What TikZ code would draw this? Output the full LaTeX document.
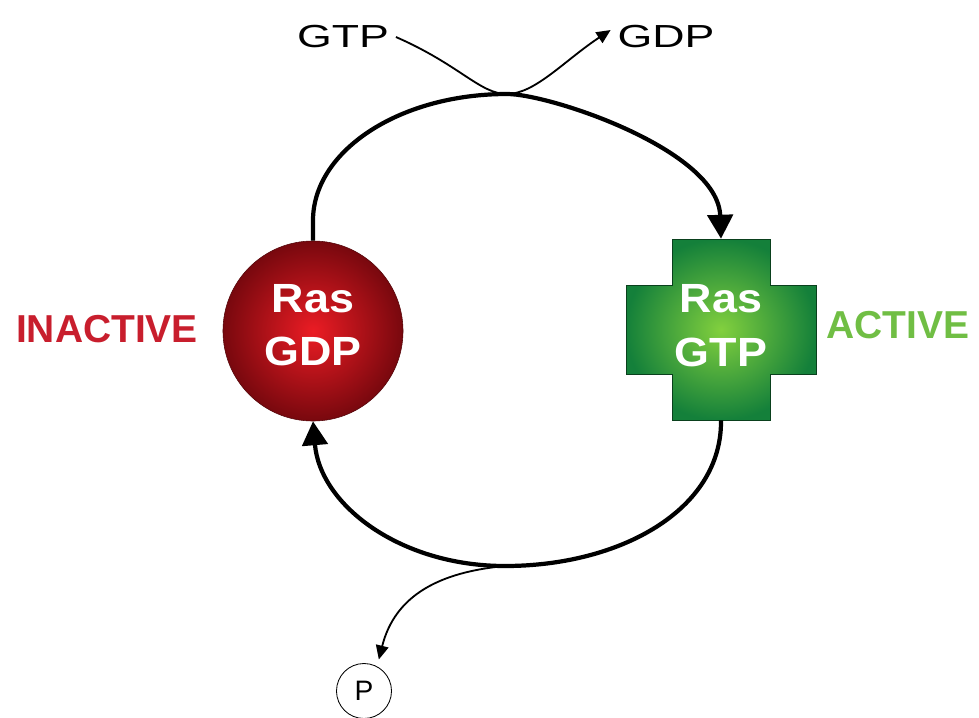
\documentclass[tikz,border=0pt]{standalone}
\usepackage{fontspec}
\setmainfont{Liberation Sans}
\usetikzlibrary{arrows.meta}

\definecolor{rasred}{RGB}{235,28,36}
\definecolor{rasdarkred}{RGB}{120,8,14}
\definecolor{rasgreen}{RGB}{130,208,62}
\definecolor{rasdarkgreen}{RGB}{20,128,58}
\definecolor{inactivered}{RGB}{200,30,45}
\definecolor{activegreen}{RGB}{112,190,68}

\begin{document}
\begin{tikzpicture}[x=0.025cm,y=-0.025cm,
    cyclearrow/.style={line width=3pt,-{Triangle[length=17pt,width=18pt]}},
    sidearrow/.style={line width=1.3pt,-{Triangle[length=10pt,width=9pt]}},
    rastext/.style={text=white,font=\bfseries\fontsize{29}{38}\selectfont,
        align=center,xscale=1.1},
    statetext/.style={font=\bfseries\fontsize{27.7}{32}\selectfont},
    nucleotide/.style={font=\fontsize{22.7}{27}\selectfont,xscale=1.4}]
    \useasboundingbox (0,0) rectangle (979,717);

    % Ras-GDP, inactive
    \node[circle,minimum size=4.5cm,inner sep=0pt,draw=rasdarkred!70!black,
        line width=0.4pt,inner color=rasred,outer color=rasdarkred]
        (rasgdp) at (313,331) {};
    \node[rastext] (gdplabel) at (313,325) {Ras\\GDP};
    \node[statetext,text=inactivered] (inactive) at (107,329) {INACTIVE};

    % Ras-GTP, active
    \begin{scope}[shift={(721,329.5)}]
        \shadedraw[inner color=rasgreen,outer color=rasdarkgreen,
            draw=rasdarkgreen!50!black,line width=0.7pt]
            (-49,-90.5) -- (49,-90.5) -- (49,-44.5) -- (95,-44.5)
            -- (95,44.5) -- (49,44.5) -- (49,90.5) -- (-49,90.5)
            -- (-49,44.5) -- (-95,44.5) -- (-95,-44.5) -- (-49,-44.5) -- cycle;
    \end{scope}
    \node[minimum width=2.45cm,minimum height=4.525cm,inner sep=0pt]
        (rasgtp) at (721,329.5) {};
    \node[rastext] (gtplabel) at (721,325.5) {Ras\\GTP};
    \node[statetext,text=activegreen] (active) at (898,325) {ACTIVE};

    % exchange and release
    \node[nucleotide] (gtpin) at (343,37) {GTP};
    \node[nucleotide] (gdpout) at (666,37) {GDP};
    \node[circle,draw,line width=0.6pt,minimum size=1.375cm,inner sep=0pt,
        font=\fontsize{20}{24}\selectfont] (phos) at (364,691) {P};

    \coordinate (peak) at (507,94);
    \coordinate (trough) at (505,566);

    % main cycle
    \draw[cyclearrow] (rasgdp.north) -- ++(0,-19) .. controls (312,152) and (398,94)
        .. (peak) .. controls (550,94) and (718,150) .. (rasgtp.north);
    \draw[cyclearrow] (rasgtp.south) .. controls (722,510) and (620,566) .. (trough)
        .. controls (400,566) and (320,505) .. (rasgdp.south);

    \draw[sidearrow] (gtpin.east) .. controls (460,65) and (480,94) .. (peak)
        .. controls (535,94) and (565,60) .. (gdpout.170);
    \draw[sidearrow,shorten >=5pt] (trough) .. controls (440,572) and (395,595)
        .. (phos.62);
\end{tikzpicture}
\end{document}
